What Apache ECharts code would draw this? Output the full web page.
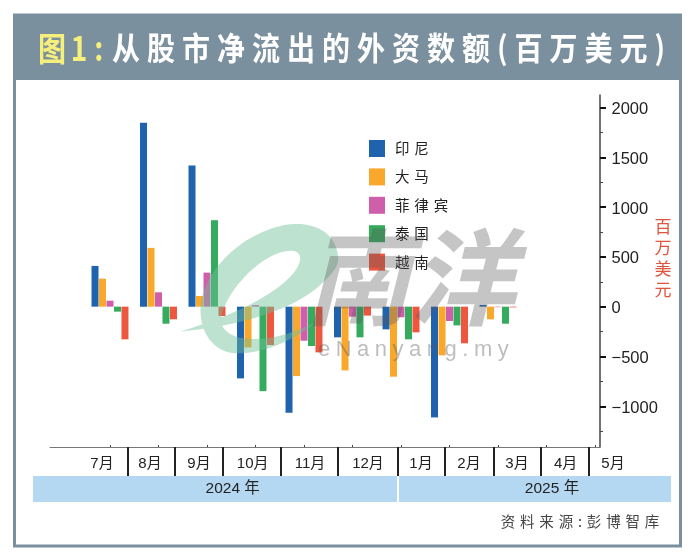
<!DOCTYPE html>
<html>
<head>
<meta charset="utf-8">
<style>html,body{margin:0;padding:0;background:#fff}#c{width:690px;height:558px}</style>
<script src="https://cdn.jsdelivr.net/npm/echarts@6/dist/echarts.min.js"></script>
</head>
<body>
<div id="c"></div>
<script>
const months = ['7月','8月','9月','10月','11月','12月','1月','2月','3月','4月','5月'];
const monthIndex = [0,1,2,3,4,5,6,7,8,9,10];
const years = ['2024 年','2025 年'];
const indonesia   = [409,1846,1417,-720,-1065,-308,-228,-1112,17,null,null];
const malaysia    = [281,590,107,-409,-697,-640,-703,-489,-127,null,null];
const philippines = [60,144,342,15,-342,-100,-107,-144,-5,null,null];
const thailand    = [-50,-171,868,-848,-395,-308,-328,-188,-171,null,null];
const vietnam     = [-328,-127,-94,-385,-459,-90,-258,-368,-7,null,null];
const seriesNames = ['印尼','大马','菲律宾','泰国','越南'];
const seriesValues = [indonesia,malaysia,philippines,thailand,vietnam];
const seriesColors = ['#1f63ae','#f9a82b','#cf5fab','#35ab5e','#ee5640'];
const majorTicks = [2000,1500,1000,500,0,-500,-1000];
const minorTicks = [1750,1250,750,250,-250,-750,-1250];

/* layout (page pixels) */
const separatorX = [127.3,174.3,223,280.7,337.3,397.7,445,493.3,540.7,588.3];
const monthLabelX = [102,150,199,252.7,310,368,421,469,517,565.7,613];
const FONT = '"Liberation Sans","Noto Sans CJK SC",sans-serif';
const CJK = '"Noto Sans CJK SC",sans-serif';
const SPC = '\u2004';
const pageAxis = {type:'value',min:50,max:600,position:'bottom',splitLine:{show:false},axisLine:{show:false,onZero:false}};

echarts.graphic.registerShape('swoosh', echarts.graphic.extendPath(
  'M505 160C500 80 430 50 360 58C250 70 110 170 92 300C85 390 140 445 200 445C290 445 380 400 440 350C370 385 290 410 220 400C170 392 145 360 155 335C170 250 290 130 370 138C400 142 395 175 370 205C320 265 200 330 30 380C180 365 340 330 440 250C480 215 505 190 505 160Z', {}));

const chart = echarts.init(document.getElementById('c'),null,{renderer:'canvas'});
chart.setOption({
  animation:false,
  backgroundColor:'#fff',
  grid:[
    {left:50,right:90,top:95,bottom:111,containLabel:false},
    {left:50,right:50,top:95,bottom:111,containLabel:false}
  ],
  legend:{
    orient:'vertical',left:369,top:140,padding:0,itemWidth:16,itemHeight:17,itemGap:11.4,
    selectedMode:false,icon:'rect',
    data:seriesNames,
    formatter:n=>n.split('').join(SPC),
    itemStyle:{borderWidth:0},
    textStyle:{fontFamily:CJK,fontSize:14.5,color:'#222',padding:[4,0,0,5]}
  },
  xAxis:[
    {type:'value',gridIndex:0,min:-1.237,max:10.103,position:'bottom',
      splitLine:{show:false},
      axisLine:{show:true,onZero:false,lineStyle:{color:'#777',width:1}},
      axisTick:{show:true,inside:true,length:2,customValues:monthIndex,lineStyle:{color:'#444',width:1}},
      axisLabel:{show:false}},
    Object.assign({},pageAxis,{gridIndex:0,
      axisTick:{show:true,length:29,customValues:separatorX,lineStyle:{color:'#222',width:2}},
      axisLabel:{show:false}}),
    Object.assign({},pageAxis,{gridIndex:1,max:640,
      axisTick:{show:false},
      axisLabel:{show:true,margin:9,customValues:monthLabelX,hideOverlap:false,
        formatter:v=>months[monthLabelX.indexOf(v)],
        fontFamily:FONT,fontSize:15,color:'#222'}})
  ],
  yAxis:[
    {type:'value',gridIndex:0,min:-1409,max:2125,position:'right',splitLine:{show:false},
      axisLine:{show:true,onZero:false,lineStyle:{color:'#444',width:1.5}},
      axisTick:{show:true,length:6,customValues:majorTicks,lineStyle:{color:'#111',width:2}},
      axisLabel:{show:false}},
    {type:'value',gridIndex:0,min:-1409,max:2125,position:'right',splitLine:{show:false},
      axisLine:{show:false,onZero:false},
      axisTick:{show:true,length:3,customValues:minorTicks,lineStyle:{color:'#444',width:1}},
      axisLabel:{show:false}},
    {type:'value',gridIndex:1,min:0,max:1,show:false},
    /* labels sit about 2px below their ticks in the reference */
    {type:'value',gridIndex:0,min:-1389,max:2145,position:'right',splitLine:{show:false},
      axisLine:{show:false,onZero:false},axisTick:{show:false},
      axisLabel:{show:true,margin:11.5,customValues:majorTicks,
        formatter:v=>String(v).replace('-','\u2212'),
        fontFamily:FONT,fontSize:16.5,color:'#222'}}
  ],
  series:seriesNames.map((name,s)=>({
    name,type:'bar',xAxisIndex:0,yAxisIndex:0,
    barWidth:7,barGap:'7%',
    itemStyle:{color:seriesColors[s]},
    emphasis:{disabled:true},
    data:monthIndex.map((m,i)=>[m,seriesValues[s][i]])
  })),
  graphic:[
    {type:'rect',z:-10,shape:{x:14.5,y:15,width:666,height:531},style:{fill:'#fff',stroke:'#7b909e',lineWidth:3}},
    {type:'rect',z:-9,shape:{x:13,y:14,width:669,height:66},style:{fill:'#7b909e'}},
    {type:'text',z:5,x:38,y:32,scaleX:0.85,style:{text:'图\u20061\u2005:',fontFamily:CJK,fontWeight:'bold',fontSize:33,fill:'#f7ef7c',textVerticalAlign:'top'}},
    {type:'text',z:5,x:112,y:32,scaleX:0.875,style:{text:'从股市净流出的外资数额(百万美元)'.split('').join('\u2005'),fontFamily:CJK,fontWeight:'bold',fontSize:32,fill:'#fff',textVerticalAlign:'top'}},
    {type:'rect',z:-5,shape:{x:33,y:476,width:364,height:26},style:{fill:'#b5d8f2'}},
    {type:'rect',z:-5,shape:{x:399,y:476,width:272,height:26},style:{fill:'#b5d8f2'}},
    {type:'text',z:5,x:232.7,y:489,style:{text:years[0],align:'center',verticalAlign:'middle',fontFamily:FONT,fontSize:15.5,fill:'#222'}},
    {type:'text',z:5,x:552,y:489,style:{text:years[1],align:'center',verticalAlign:'middle',fontFamily:FONT,fontSize:15.5,fill:'#222'}},
    {type:'text',z:5,x:580,y:521,style:{text:'资料来源:彭博智库'.split('').join(SPC),align:'center',verticalAlign:'middle',fontFamily:CJK,fontSize:14.5,fill:'#444'}},
    {type:'text',z:5,x:663,y:258,style:{text:'百\n万\n美\n元',align:'center',verticalAlign:'middle',lineHeight:21,fontFamily:CJK,fontSize:17,fill:'#e0533d'}},
    /* watermark */
    {type:'swoosh',z:40,x:170,y:205,scaleX:1/3,scaleY:1/3,shape:{},style:{fill:'rgba(110,190,150,0.45)'}},
    {type:'text',z:41,x:305,y:225,style:{text:'南洋',fontFamily:CJK,fontWeight:'bold',fontStyle:'italic',fontSize:105,fill:'rgba(90,90,90,0.35)',textVerticalAlign:'top'}},
    {type:'text',z:41,x:318,y:350,style:{text:'eNanyang.my'.split('').join('\u2005'),fontFamily:FONT,fontSize:22,fill:'rgba(90,90,90,0.4)',verticalAlign:'middle'}}
  ]
});
</script>
</body>
</html>
